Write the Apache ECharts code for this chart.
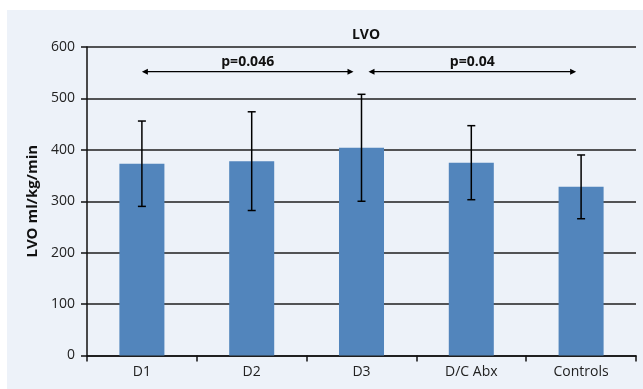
<!DOCTYPE html>
<html>
<head>
<meta charset="utf-8">
<script src="https://cdn.jsdelivr.net/npm/echarts@6/dist/echarts.min.js"></script>
<style>
html,body{margin:0;padding:0;background:#fff;}
#main{width:643px;height:389px;}
</style>
</head>
<body>
<div id="main"></div>
<script>
// 数据
var groups = ['D1', 'D2', 'D3', 'D/C Abx', 'Controls'];
var lvoMean = [373, 378, 404, 375, 328];
var lvoErr = [83, 96, 104, 72, 62];
var yTicks = [0, 100, 200, 300, 400, 500, 600];
// 比较: 起点组, 终点组, 高度, p值
var compFrom = [0, 2];
var compTo = [2, 4];
var compY = [552, 552];
var compText = ['p=0.046', 'p=0.04'];

var errData = [];
for (var i = 0; i < groups.length; i++) {
	errData.push([i, lvoMean[i] - lvoErr[i], lvoMean[i] + lvoErr[i]]);
}
var compData = [];
for (var j = 0; j < compFrom.length; j++) {
	compData.push([compFrom[j], compTo[j], compY[j], compText[j]]);
}

var font = "'Open Sans', 'Noto Sans', sans-serif";
var myChart = echarts.init(document.getElementById('main'));
var option = {
	animation: false,
	textStyle: {fontFamily: font},
	graphic: [{
		type: 'rect',
		z: -10,
		shape: {x: 7, y: 10, width: 643, height: 389},
		style: {fill: '#edf2f9'}
	}],
	title: {
		text: 'LVO',
		left: 361,
		textAlign: 'center',
		top: 23,
		textStyle: {fontFamily: font, fontSize: 14, fontWeight: 'bold', color: '#111'}
	},
	grid: {left: 87, right: 7, top: 47, bottom: 33.5},
	xAxis: {
		type: 'category',
		data: groups,
		axisLine: {lineStyle: {color: '#111', width: 1.5}},
		axisTick: {show: true, length: 6, lineStyle: {color: '#111', width: 1.5}},
		axisLabel: {color: '#222', fontSize: 14, margin: 10, fontFamily: font},
		splitLine: {show: false}
	},
	yAxis: {
		type: 'value',
		min: 0,
		max: 600,
		interval: 100,
		name: 'LVO ml/kg/min',
		nameLocation: 'middle',
		nameGap: 47,
		nameRotate: 90,
		nameTextStyle: {fontFamily: font, fontSize: 15, fontWeight: 'bold', color: '#111'},
		axisLine: {show: true, lineStyle: {color: '#111', width: 1.5}},
		axisTick: {show: true, length: 6, lineStyle: {color: '#111', width: 1.5}},
		axisLabel: {color: '#222', fontSize: 14, margin: 12, fontFamily: font},
		splitLine: {show: true, lineStyle: {color: '#1e1e1e', width: 1.5}}
	},
	series: [
		{
			name: 'LVO',
			type: 'bar',
			data: lvoMean,
			barWidth: '41%',
			itemStyle: {color: '#5285bc'},
			z: 2
		},
		{
			// 误差线
			name: 'err',
			type: 'custom',
			data: errData,
			z: 5,
			renderItem: function (params, api) {
				var x = api.value(0);
				var lo = api.coord([x, api.value(1)]);
				var hi = api.coord([x, api.value(2)]);
				var cap = 4;
				var st = {stroke: '#000', lineWidth: 1.5};
				return {
					type: 'group',
					children: [
						{type: 'line', shape: {x1: lo[0], y1: lo[1], x2: hi[0], y2: hi[1]}, style: st},
						{type: 'line', shape: {x1: hi[0] - cap, y1: hi[1], x2: hi[0] + cap, y2: hi[1]}, style: st},
						{type: 'line', shape: {x1: lo[0] - cap, y1: lo[1], x2: lo[0] + cap, y2: lo[1]}, style: st}
					]
				};
			}
		},
		{
			// p值箭头
			name: 'comp',
			type: 'custom',
			data: compData,
			z: 6,
			renderItem: function (params, api) {
				var a = api.coord([api.value(0), api.value(2)]);
				var b = api.coord([api.value(1), api.value(2)]);
				var x1 = a[0] + (params.dataIndex === 0 ? 0 : 7);
				var x2 = b[0] - (params.dataIndex === 0 ? 8 : 5);
				var y = a[1];
				var hl = 6, hw = 3;
				return {
					type: 'group',
					children: [
						{type: 'line', shape: {x1: x1 + 2, y1: y, x2: x2 - 2, y2: y}, style: {stroke: '#000', lineWidth: 1.2}},
						{type: 'polygon', shape: {points: [[x1, y], [x1 + hl, y - hw], [x1 + hl, y + hw]]}, style: {fill: '#000'}},
						{type: 'polygon', shape: {points: [[x2, y], [x2 - hl, y - hw], [x2 - hl, y + hw]]}, style: {fill: '#000'}},
						{type: 'text', x: (x1 + x2) / 2, y: y - 10, style: {
							text: api.value(3), fontFamily: font, fontSize: 14, fontWeight: 'bold',
							fill: '#111', align: 'center', verticalAlign: 'middle'
						}}
					]
				};
			}
		}
	]
};
myChart.setOption(option);
</script>
</body>
</html>
